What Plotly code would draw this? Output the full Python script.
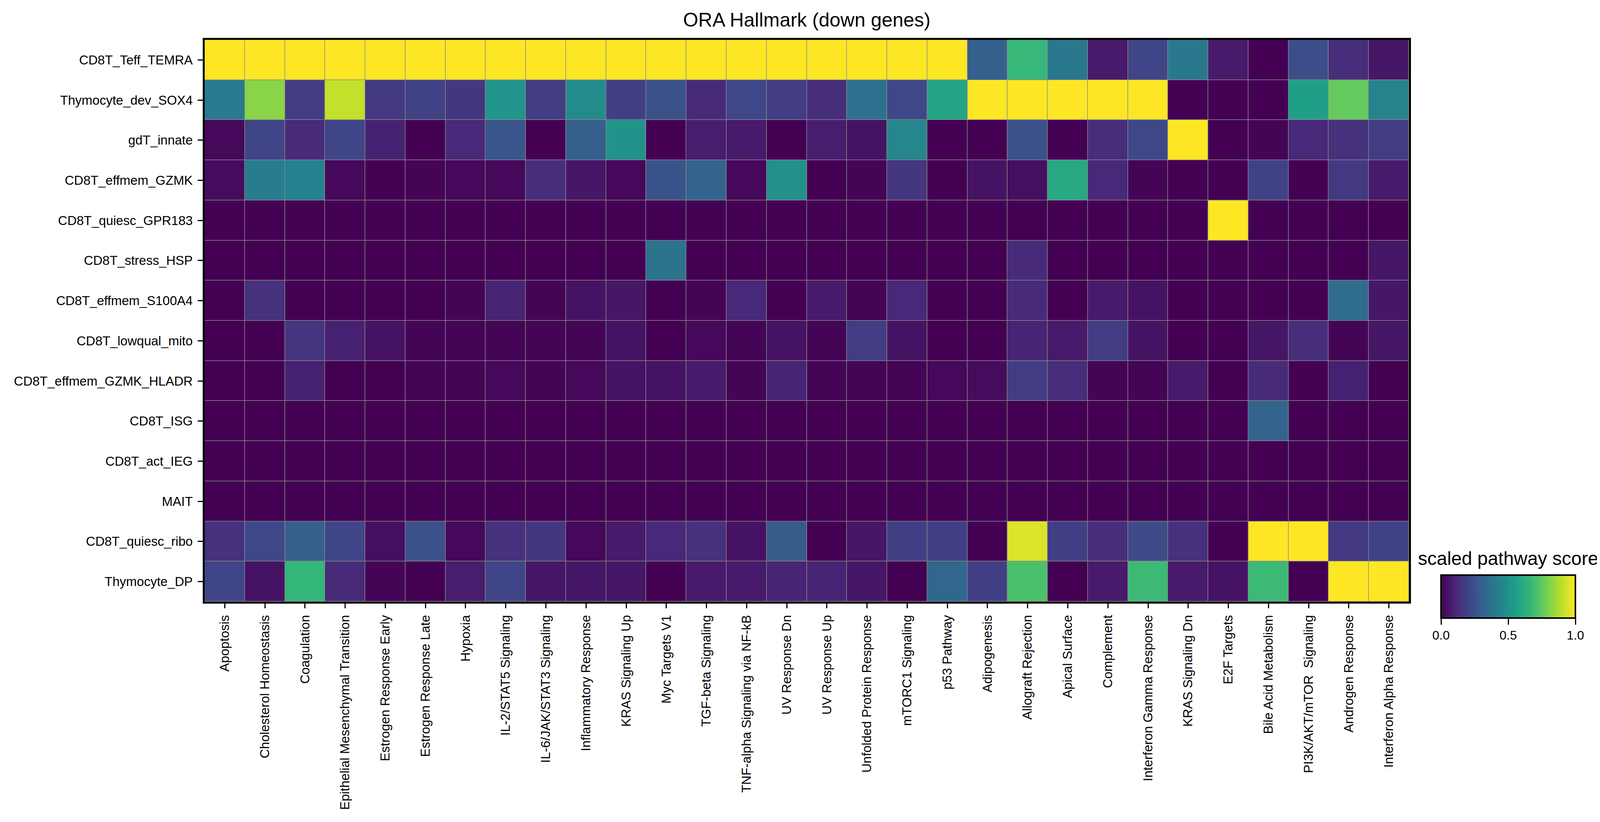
import plotly.graph_objects as go

# pathways (x) and cell types (y, top to bottom)
pathways = ["Apoptosis", "Cholesterol Homeostasis", "Coagulation",
            "Epithelial Mesenchymal Transition", "Estrogen Response Early",
            "Estrogen Response Late", "Hypoxia", "IL-2/STAT5 Signaling",
            "IL-6/JAK/STAT3 Signaling", "Inflammatory Response", "KRAS Signaling Up",
            "Myc Targets V1", "TGF-beta Signaling", "TNF-alpha Signaling via NF-kB",
            "UV Response Dn", "UV Response Up", "Unfolded Protein Response",
            "mTORC1 Signaling", "p53 Pathway", "Adipogenesis", "Allograft Rejection",
            "Apical Surface", "Complement", "Interferon Gamma Response",
            "KRAS Signaling Dn", "E2F Targets", "Bile Acid Metabolism",
            "PI3K/AKT/mTOR  Signaling", "Androgen Response", "Interferon Alpha Response"]

cell_types = ["CD8T_Teff_TEMRA", "Thymocyte_dev_SOX4", "gdT_innate", "CD8T_effmem_GZMK",
              "CD8T_quiesc_GPR183", "CD8T_stress_HSP", "CD8T_effmem_S100A4",
              "CD8T_lowqual_mito", "CD8T_effmem_GZMK_HLADR", "CD8T_ISG", "CD8T_act_IEG",
              "MAIT", "CD8T_quiesc_ribo", "Thymocyte_DP"]

# scaled scores, one list per cell type (same order as pathways)
temra = [1.0, 1.0, 1.0, 1.0, 1.0, 1.0, 1.0, 1.0, 1.0, 1.0, 1.0, 1.0, 1.0, 1.0, 1.0,
         1.0, 1.0, 1.0, 1.0, 0.30, 0.67, 0.40, 0.07, 0.21, 0.40, 0.07, 0.0, 0.24, 0.13, 0.06]
sox4 = [0.41, 0.82, 0.18, 0.91, 0.17, 0.20, 0.16, 0.52, 0.18, 0.48, 0.19, 0.25, 0.12, 0.22, 0.18,
        0.13, 0.37, 0.22, 0.58, 1.0, 1.0, 1.0, 1.0, 1.0, 0.0, 0.0, 0.0, 0.56, 0.76, 0.45]
gdt = [0.02, 0.21, 0.12, 0.21, 0.09, 0.0, 0.11, 0.27, 0.0, 0.30, 0.51, 0.0, 0.08, 0.07, 0.0,
       0.08, 0.05, 0.46, 0.0, 0.0, 0.25, 0.0, 0.13, 0.22, 1.0, 0.0, 0.01, 0.11, 0.14, 0.18]
gzmk = [0.03, 0.42, 0.44, 0.02, 0.0, 0.01, 0.02, 0.02, 0.13, 0.06, 0.02, 0.26, 0.32, 0.02, 0.50,
        0.0, 0.01, 0.16, 0.0, 0.05, 0.04, 0.60, 0.11, 0.01, 0.0, 0.0, 0.20, 0.0, 0.17, 0.07]
gpr183 = [0.0, 0.0, 0.0, 0.0, 0.0, 0.0, 0.0, 0.0, 0.0, 0.0, 0.0, 0.0, 0.0, 0.0, 0.0,
          0.0, 0.0, 0.0, 0.0, 0.0, 0.0, 0.0, 0.0, 0.0, 0.0, 1.0, 0.0, 0.0, 0.0, 0.0]
hsp = [0.0, 0.0, 0.0, 0.0, 0.0, 0.0, 0.0, 0.0, 0.0, 0.0, 0.0, 0.38, 0.0, 0.0, 0.0,
       0.0, 0.0, 0.0, 0.0, 0.0, 0.12, 0.0, 0.0, 0.0, 0.0, 0.0, 0.0, 0.0, 0.0, 0.06]
s100a4 = [0.0, 0.14, 0.0, 0.0, 0.0, 0.0, 0.01, 0.10, 0.01, 0.05, 0.06, 0.0, 0.01, 0.11, 0.0,
          0.07, 0.01, 0.11, 0.0, 0.0, 0.12, 0.0, 0.07, 0.05, 0.0, 0.0, 0.0, 0.0, 0.35, 0.06]
mito = [0.0, 0.0, 0.15, 0.09, 0.05, 0.01, 0.01, 0.01, 0.01, 0.01, 0.05, 0.0, 0.02, 0.01, 0.05,
        0.01, 0.18, 0.05, 0.0, 0.0, 0.10, 0.07, 0.18, 0.05, 0.0, 0.0, 0.06, 0.13, 0.01, 0.06]
hladr = [0.0, 0.0, 0.09, 0.0, 0.0, 0.01, 0.01, 0.02, 0.01, 0.02, 0.05, 0.05, 0.07, 0.01, 0.10,
         0.01, 0.01, 0.01, 0.02, 0.03, 0.18, 0.13, 0.01, 0.01, 0.07, 0.0, 0.12, 0.0, 0.09, 0.0]
isg = [0.0, 0.0, 0.0, 0.0, 0.0, 0.0, 0.0, 0.0, 0.0, 0.0, 0.0, 0.0, 0.0, 0.0, 0.0,
       0.0, 0.0, 0.0, 0.0, 0.0, 0.0, 0.0, 0.0, 0.0, 0.0, 0.0, 0.32, 0.0, 0.0, 0.0]
ieg = [0.0, 0.0, 0.0, 0.0, 0.0, 0.0, 0.0, 0.0, 0.0, 0.0, 0.0, 0.0, 0.0, 0.0, 0.0,
       0.0, 0.0, 0.0, 0.0, 0.0, 0.0, 0.0, 0.0, 0.0, 0.0, 0.0, 0.0, 0.0, 0.0, 0.0]
mait = [0.0, 0.0, 0.0, 0.0, 0.0, 0.0, 0.0, 0.0, 0.0, 0.0, 0.0, 0.0, 0.0, 0.0, 0.0,
        0.0, 0.0, 0.0, 0.0, 0.0, 0.0, 0.0, 0.0, 0.0, 0.0, 0.0, 0.0, 0.0, 0.0, 0.0]
ribo = [0.14, 0.22, 0.30, 0.21, 0.04, 0.25, 0.02, 0.14, 0.16, 0.02, 0.07, 0.11, 0.14, 0.05, 0.29,
        0.0, 0.06, 0.19, 0.19, 0.0, 0.95, 0.19, 0.13, 0.23, 0.14, 0.0, 1.0, 1.0, 0.17, 0.20]
dp = [0.21, 0.05, 0.66, 0.12, 0.01, 0.0, 0.08, 0.21, 0.06, 0.06, 0.06, 0.0, 0.07, 0.07, 0.10,
      0.10, 0.06, 0.0, 0.33, 0.19, 0.71, 0.0, 0.07, 0.68, 0.07, 0.05, 0.68, 0.0, 1.0, 1.0]

z = [temra, sox4, gdt, gzmk, gpr183, hsp, s100a4, mito, hladr, isg, ieg, mait, ribo, dp]

FONT = "Liberation Sans, Arial, sans-serif"

# page body has an 8px margin, so the figure is a bit smaller than the window
W, H = 4108, 2088

fig = go.Figure(go.Heatmap(
    z=z, x=pathways, y=cell_types,
    zmin=0, zmax=1, colorscale="Viridis",
    xgap=1.5, ygap=1.5,
    colorbar=dict(
        orientation="h", thickness=110, thicknessmode="pixels",
        len=344, lenmode="pixels",
        x=1.0824, xanchor="center", y=0.0473, yanchor="top", ypad=0, xpad=0,
        outlinewidth=4, outlinecolor="black",
        ticks="outside", ticklen=15, tickwidth=3, tickcolor="black",
        tickvals=[0, 0.5, 1], ticktext=["0.0", "0.5", "1.0"],
        tickfont=dict(size=32, color="black", family=FONT),
    ),
))

fig.add_annotation(text="scaled pathway score", xref="paper", yref="paper",
                   x=1.0824, y=0.0765, xanchor="center", yanchor="middle",
                   showarrow=False, font=dict(size=48, color="black", family=FONT))

fig.update_xaxes(tickangle=-90, ticks="outside", ticklen=12, tickwidth=3, tickcolor="black",
                 showline=True, linewidth=5, linecolor="black", mirror=True,
                 ticklabelstandoff=4,
                 tickfont=dict(size=33, color="black", family=FONT), showgrid=False)
fig.update_yaxes(autorange="reversed", ticks="outside", ticklen=13, tickwidth=3,
                 tickcolor="black", showline=True, linewidth=5, linecolor="black",
                 mirror=True, ticklabelstandoff=6,
                 tickfont=dict(size=33, color="black", family=FONT), showgrid=False)

fig.update_layout(
    width=W, height=H,
    margin=dict(l=516, r=509, t=94, b=556),
    paper_bgcolor="white", plot_bgcolor="#8a8a8a",
    title=dict(text="ORA Hallmark (down genes)", x=0.5, xref="paper",
               y=1 - 42 / H, yanchor="middle",
               font=dict(size=50, color="black", family=FONT)),
)

fig.write_html("out.html")
